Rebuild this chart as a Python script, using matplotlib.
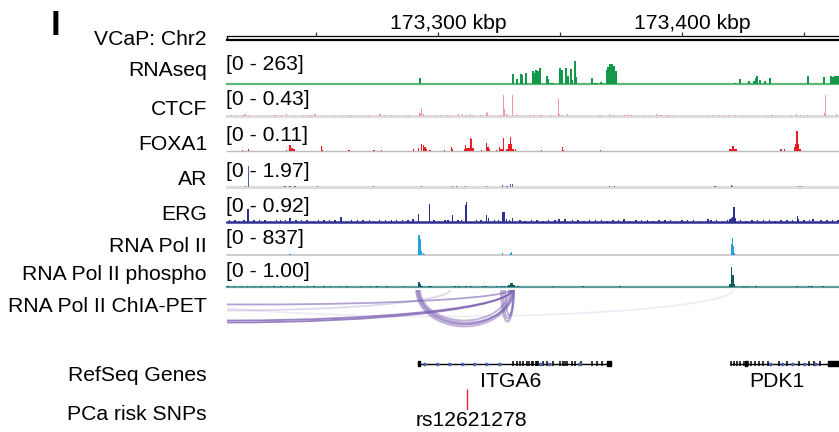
import matplotlib
matplotlib.use("Agg")
import matplotlib.pyplot as plt
from matplotlib.patches import Arc

plt.rcParams["font.family"] = ["Liberation Sans", "DejaVu Sans"]

# ---- data (genomic positions in kbp on chr2) ----
view_start, view_end = 173213.5, 173464.3
ruler_ticks = [173250, 173300, 173350, 173400, 173450]
ruler_labels = {173300: "173,300 kbp", 173400: "173,400 kbp"}

rnaseq_pos = [173292.6, 173330.6, 173332.3, 173333.9, 173334.4, 173335.9, 173338.8, 173339.3, 173340.2, 173341.0,
              173341.8, 173344.5, 173345.1, 173345.9, 173346.5, 173347.1, 173350.0, 173350.8, 173352.3, 173353.3,
              173354.4, 173354.9, 173356.0, 173356.6, 173363.0, 173363.5, 173364.3, 173365.2, 173366.7, 173367.2,
              173369.1, 173369.7, 173370.5, 173371.3, 173372.1, 173372.9, 173421.7, 173423.8, 173427.5, 173429.5,
              173430.1, 173430.7, 173432.0, 173434.0, 173436.1, 173451.6, 173458.2, 173461.1, 173461.9, 173462.7,
              173463.5, 173464.3]
rnaseq_val = [69, 114, 57, 114, 103, 126, 149, 126, 160, 149,
              183, 91, 57, 11, 11, 11, 183, 160, 183, 91,
              171, 46, 263, 80, 69, 11, 11, 11, 23, 11,
              160, 194, 229, 229, 206, 149, 11, 57, 34, 34,
              69, 91, 46, 34, 69, 91, 80, 91, 80, 91,
              91, 91]

ctcf_pos = [173292.6, 173293.3, 173293.9, 173319.8, 173320.3, 173326.8, 173327.3, 173327.9, 173330.4, 173349.3,
            173349.8, 173353.0, 173370.2, 173458.2, 173458.7]
ctcf_val = [0.06, 0.17, 0.04, 0.08, 0.06, 0.43, 0.14, 0.04, 0.43, 0.35,
            0.04, 0.04, 0.04, 0.06, 0.43]
ctcf_low_pos = [173215.2, 173217.5, 173219.8, 173220.9, 173222.3, 173231.2, 173233.2, 173235.9, 173238.0, 173240.7,
                173244.8, 173246.8, 173248.2, 173249.6, 173252.3, 173257.1, 173260.5, 173263.9, 173267.3, 173271.4,
                173276.2, 173278.3, 173281.0, 173283.7, 173286.5, 173287.8, 173299.2, 173301.5, 173303.8, 173305.2,
                173308.3, 173310.0, 173311.8, 173313.2, 173314.1, 173317.3, 173323.1, 173325.5, 173328.4, 173332.3,
                173337.7, 173339.5, 173342.2, 173346.4, 173350.7, 173366.4, 173371.8, 173376.6, 173378.0, 173379.4,
                173384.1, 173386.9, 173389.6, 173390.6, 173391.7, 173394.0, 173394.8, 173396.8, 173405.0, 173408.3,
                173410.8, 173412.4, 173414.9, 173416.9, 173419.0, 173421.7, 173424.5, 173434.3, 173436.8, 173439.0,
                173444.9, 173447.0, 173448.6, 173451.3, 173463.4]
ctcf_low_val = [0.02, 0.015, 0.02, 0.025, 0.02, 0.015, 0.02, 0.02, 0.025, 0.015,
                0.02, 0.02, 0.015, 0.025, 0.02, 0.015, 0.02, 0.02, 0.015, 0.02,
                0.025, 0.02, 0.015, 0.02, 0.02, 0.015, 0.02, 0.02, 0.015, 0.02,
                0.03, 0.04, 0.02, 0.025, 0.02, 0.02, 0.015, 0.02, 0.02, 0.015,
                0.02, 0.02, 0.015, 0.02, 0.02, 0.015, 0.02, 0.02, 0.025, 0.02,
                0.015, 0.02, 0.025, 0.02, 0.02, 0.015, 0.02, 0.02, 0.015, 0.02,
                0.02, 0.015, 0.02, 0.02, 0.015, 0.02, 0.02, 0.015, 0.02, 0.02,
                0.02, 0.025, 0.02, 0.02, 0.025]

foxa1_pos = [173219.8, 173222.3, 173238.0, 173239.3, 173240.2, 173241.0, 173252.1, 173252.7, 173263.5, 173273.8,
             173276.9, 173289.9, 173291.9, 173293.3, 173294.1, 173294.7, 173295.3, 173296.7, 173302.6, 173305.5,
             173305.9, 173310.7, 173311.2, 173311.8, 173312.7, 173313.2, 173313.8, 173314.3, 173317.7, 173319.8,
             173320.4, 173320.9, 173323.9, 173325.1, 173325.7, 173326.2, 173326.8, 173328.0, 173328.6, 173329.1,
             173329.6, 173330.2, 173330.7, 173331.7, 173342.3, 173350.9, 173351.4, 173366.5, 173419.7, 173420.3,
             173420.9, 173421.5, 173422.1, 173440.6, 173441.9, 173446.0, 173446.6, 173447.1, 173447.7, 173448.3]
foxa1_val = [0.007, 0.011, 0.008, 0.034, 0.016, 0.011, 0.029, 0.008, 0.005, 0.005,
             0.005, 0.011, 0.016, 0.040, 0.034, 0.022, 0.011, 0.005, 0.005, 0.023,
             0.011, 0.011, 0.034, 0.016, 0.016, 0.072, 0.067, 0.016, 0.005, 0.045,
             0.023, 0.011, 0.005, 0.023, 0.011, 0.011, 0.072, 0.011, 0.011, 0.040,
             0.078, 0.040, 0.011, 0.011, 0.005, 0.023, 0.005, 0.005, 0.011, 0.011,
             0.029, 0.011, 0.011, 0.011, 0.011, 0.023, 0.040, 0.110, 0.040, 0.011]

ar_pos = [173221.2, 173222.3, 173237.3, 173239.3, 173241.4, 173250.7, 173273.5, 173293.3, 173305.9, 173307.7,
          173311.2, 173319.8, 173326.5, 173328.2, 173329.6, 173330.4, 173370.2, 173372.2, 173413.5, 173420.2,
          173420.7, 173447.7, 173448.9]
ar_val = [0.09, 1.97, 0.09, 0.09, 0.09, 0.09, 0.09, 0.09, 0.09, 0.09,
          0.09, 0.09, 0.19, 0.09, 0.25, 0.31, 0.09, 0.09, 0.09, 0.19,
          0.09, 0.09, 0.09]

erg_pos = [173222.1, 173239.3, 173260.2, 173291.9, 173296.4, 173305.9, 173311.2, 173311.6, 173319.8, 173320.6,
           173326.6, 173327.3, 173328.0, 173330.4, 173419.7, 173420.3, 173420.9, 173421.3, 173421.9, 173447.2,
           173447.8]
erg_val = [0.57, 0.19, 0.21, 0.38, 0.83, 0.31, 0.78, 0.92, 0.31, 0.16,
           0.45, 0.45, 0.14, 0.16, 0.14, 0.19, 0.23, 0.69, 0.19, 0.28,
           0.14]
erg_low_pos = [173214.5, 173216.8, 173218.6, 173220.4, 173224.5, 173226.9, 173229.0, 173231.3, 173233.8, 173235.5,
               173237.4, 173241.8, 173244.0, 173246.3, 173248.9, 173251.0, 173253.2, 173255.6, 173257.8, 173262.4,
               173264.6, 173266.9, 173269.3, 173271.8, 173273.6, 173276.1, 173278.4, 173280.9, 173283.0, 173285.4,
               173287.7, 173289.8, 173298.4, 173300.6, 173302.9, 173304.1, 173308.2, 173309.5, 173315.8, 173317.6,
               173323.1, 173324.8, 173329.2, 173333.5, 173335.7, 173338.2, 173340.6, 173343.0, 173345.3, 173347.9,
               173349.5, 173352.0, 173355.1, 173357.3, 173359.8, 173362.0, 173364.5, 173366.9, 173369.2, 173371.6,
               173374.0, 173376.2, 173378.7, 173381.1, 173383.4, 173385.8, 173388.0, 173390.5, 173392.9, 173395.2,
               173397.6, 173400.0, 173402.3, 173404.7, 173407.1, 173410.6, 173411.8, 173414.1, 173416.5, 173418.6,
               173424.0, 173426.1, 173428.6, 173431.0, 173433.4, 173435.8, 173438.1, 173440.5, 173442.9, 173445.2,
               173449.9, 173452.3, 173453.7, 173457.0, 173459.4, 173461.7, 173463.8]
erg_low_val = [0.06, 0.09, 0.05, 0.07, 0.10, 0.06, 0.08, 0.05, 0.09, 0.06,
               0.07, 0.10, 0.06, 0.08, 0.05, 0.09, 0.07, 0.06, 0.10, 0.05,
               0.08, 0.06, 0.09, 0.07, 0.05, 0.08, 0.06, 0.10, 0.07, 0.09,
               0.06, 0.12, 0.08, 0.05, 0.09, 0.07, 0.10, 0.08, 0.06, 0.09,
               0.07, 0.10, 0.08, 0.06, 0.05, 0.07, 0.06, 0.05, 0.08, 0.06,
               0.14, 0.14, 0.06, 0.07, 0.05, 0.08, 0.06, 0.09, 0.05, 0.07,
               0.06, 0.12, 0.05, 0.08, 0.06, 0.07, 0.05, 0.09, 0.06, 0.08,
               0.05, 0.07, 0.06, 0.09, 0.05, 0.14, 0.06, 0.07, 0.05, 0.08,
               0.07, 0.05, 0.08, 0.10, 0.06, 0.09, 0.05, 0.07, 0.06, 0.08,
               0.10, 0.07, 0.14, 0.06, 0.09, 0.07, 0.08]

pol2_pos = [173239.3, 173292.2, 173292.7, 173293.3, 173293.9, 173294.4, 173326.4, 173329.6, 173330.2, 173420.2,
            173420.6, 173421.0, 173421.5]
pol2_val = [42, 837, 670, 167, 84, 42, 63, 63, 105, 460, 711, 377, 84]

phos_pos = [173292.2, 173292.8, 173293.4, 173328.5, 173329.1, 173329.9, 173330.4, 173331.1, 173419.7, 173420.2,
            173420.9, 173421.5]
phos_val = [0.25, 0.15, 0.07, 0.07, 0.12, 0.20, 0.20, 0.10, 0.15, 1.00, 0.61, 0.15]
phos_low_pos = [173214.0, 173216.6, 173219.4, 173222.0, 173224.8, 173227.5, 173230.1, 173232.8, 173235.6, 173238.3,
                173241.0, 173243.7, 173246.4, 173249.1, 173253.2, 173255.9, 173260.0, 173262.7, 173268.1, 173272.3,
                173275.0, 173279.1, 173285.9, 173296.2, 173297.1, 173307.0, 173308.6, 173311.5, 173313.4, 173318.6,
                173319.6, 173324.0, 173326.2, 173327.2, 173332.8, 173347.0, 173359.4, 173374.6, 173425.2, 173426.0,
                173426.8, 173430.3, 173447.1, 173451.8, 173452.6, 173453.3, 173457.8]
phos_low_val = [0.05, 0.04, 0.06, 0.05, 0.04, 0.06, 0.05, 0.04, 0.06, 0.05,
                0.04, 0.06, 0.05, 0.04, 0.06, 0.05, 0.04, 0.06, 0.05, 0.04,
                0.06, 0.05, 0.04, 0.08, 0.08, 0.05, 0.05, 0.06, 0.06, 0.06,
                0.06, 0.05, 0.06, 0.06, 0.05, 0.05, 0.05, 0.05, 0.06, 0.06,
                0.06, 0.05, 0.05, 0.06, 0.06, 0.06, 0.05]

# ChIA-PET loops: anchor start, anchor end (kbp), arc depth, opacity
chia_start = [173291.0, 173291.4, 173291.8, 173292.6, 173292.2, 173325.8, 173326.6, 173327.5,
              173100.0, 173098.0, 173120.0, 173120.0, 173180.0]
chia_end = [173330.7, 173329.9, 173331.1, 173329.1, 173330.3, 173331.1, 173330.7, 173331.1,
            173330.5, 173330.0, 173329.8, 173305.1, 173421.0]
chia_depth = [37, 35, 33, 31, 34.5, 32, 29, 26, 31, 33, 15, 21, 27]
chia_alpha = [0.5, 0.5, 0.5, 0.5, 0.5, 0.55, 0.55, 0.55, 0.8, 0.8, 0.6, 0.25, 0.12]

# RefSeq genes
itga6_span = (173291.8, 173370.8)
itga6_exons = [173330.6, 173332.3, 173333.6, 173335.0, 173336.3, 173337.4, 173338.4, 173339.1, 173340.0, 173340.4,
               173341.1, 173343.2, 173344.5, 173347.0, 173350.0, 173351.3, 173352.2, 173352.7, 173354.8, 173356.1,
               173358.5, 173363.0, 173365.3, 173367.1]
itga6_blocks = [(173291.8, 0.8), (173369.4, 1.4)]
itga6_arrows = [173294.7, 173299.9, 173304.9, 173310.1, 173315.2, 173320.2, 173325.4, 173342.0, 173345.8, 173358.0]
pdk1_span = (173420.2, 173464.5)
pdk1_exons = [173420.2, 173421.3, 173422.7, 173423.8, 173425.2, 173426.3, 173427.2, 173428.3, 173430.0, 173431.6,
              173433.0, 173435.2, 173439.7, 173443.0, 173448.1, 173452.2, 173453.9, 173456.4]
pdk1_blocks = [(173425.9, 0.8), (173459.7, 4.8)]
pdk1_arrows = [173436.5, 173441.5, 173445.5, 173450.2, 173455.0]
snp_pos = [173311.7]
snp_names = ["rs12621278"]

# ---- layout (pixels of the 839x432 canvas) ----
W, H = 839, 432
X0, X1 = 227, 839
FS = 15.2

fig = plt.figure(figsize=(W / 100, H / 100), dpi=100)


def fx(px):
    return px / W


def fy(py):
    return 1 - py / H


def strip(top, bottom):
    ax = fig.add_axes([fx(X0), fy(bottom), fx(X1) - fx(X0), (bottom - top) / H])
    ax.set_xlim(view_start, view_end)
    ax.set_axis_off()
    return ax


# name, range text, ymax, data, colour, baseline colour, baseline width,
# baseline y, track height, bar width, name baseline, range baseline
tracks = [
    ("RNAseq", "263", 263, [(rnaseq_pos, rnaseq_val)], "#14994b", "#5fb97d", 1.6, 84.3, 23, 0.75, 76, 70.5),
    ("CTCF", "0.43", 0.43, [(ctcf_low_pos, ctcf_low_val), (ctcf_pos, ctcf_val)], "#f2999d", "#dcdcdc", 2.2,
     115.7, 20.7, 0.5, 115, 105),
    ("FOXA1", "0.11", 0.11, [(foxa1_pos, foxa1_val)], "#ed1c24", "#bcbcbc", 1.0, 151.3, 20.3, 0.55, 150, 140.7),
    ("AR", "1.97", 1.97, [(ar_pos, ar_val)], "#4a63b5", "#dcdcdc", 2.2, 187, 21, 0.5, 185, 177.3),
    ("ERG", "0.92", 0.92, [(erg_low_pos, erg_low_val), (erg_pos, erg_val)], "#2e3192", "#2e3192", 1.8,
     221.7, 19.7, 0.6, 220, 211.7),
    ("RNA Pol II", "837", 837, [(pol2_pos, pol2_val)], "#27a1d9", "#c4c4c4", 1.2, 255, 20, 0.5, 251.7, 244),
    ("RNA Pol II phospho", "1.00", 1.00, [(phos_low_pos, phos_low_val), (phos_pos, phos_val)], "#0d5f5f",
     "#5e9b9b", 1.6, 287.3, 20.3, 0.6, 280, 277.3),
]

fig.text(fx(55), fy(35), "I", fontsize=25, fontweight="bold", ha="center", va="baseline")
fig.text(fx(207), fy(45), "VCaP: Chr2", fontsize=FS, ha="right", va="baseline")

# ruler
rul = strip(26, 42)
rul.set_ylim(42 - 26, 0)
rul.plot([view_start, view_end], [10, 10], color="black", lw=0.9, clip_on=False)
rul.plot([view_start, view_end], [14.3, 14.3], color="black", lw=1.6, clip_on=False)
rul.vlines(view_start, 10, 14.3, color="black", lw=1.0, clip_on=False)
rul.vlines(ruler_ticks, 5.5, 10, color="#333333", lw=0.9)
for t, lab in ruler_labels.items():
    rul.text(t + 4, 3, lab, fontsize=FS, ha="center", va="baseline")

for (name, rtext, ymax, series, col, bcol, blw, base, th, bw, nbase, rbase) in tracks:
    ax = strip(base - th, base)
    ax.set_ylim(0, ymax)
    ax.axhline(0, color=bcol, lw=blw, clip_on=False, zorder=1)
    for pos, val in series:
        ax.bar(pos, val, width=bw, color=col, linewidth=0, zorder=2)
    fig.text(fx(207), fy(nbase), name, fontsize=FS, ha="right", va="baseline")
    fig.text(fx(226), fy(rbase), "[0 - %s]" % rtext, fontsize=FS, ha="left", va="baseline", zorder=0)

# ChIA-PET
chia = strip(289.5, 336)
chia.set_ylim(336 - 289.5, 0)
for s, e, d, a in zip(chia_start, chia_end, chia_depth, chia_alpha):
    chia.add_patch(Arc(((s + e) / 2, 0), e - s, 2 * d, theta1=0, theta2=180,
                       color="#7f63b3", alpha=a, lw=1.3))
fig.text(fx(207), fy(312), "RNA Pol II ChIA-PET", fontsize=FS, ha="right", va="baseline")

# genes
genes = strip(355, 372)
genes.set_ylim(8.5, -8.5)
for span, exons, blocks, arrows in [(itga6_span, itga6_exons, itga6_blocks, itga6_arrows),
                                    (pdk1_span, pdk1_exons, pdk1_blocks, pdk1_arrows)]:
    genes.plot(span, [0, 0], color="black", lw=1.0, clip_on=False)
    genes.vlines(exons, -2.7, 2.7, color="black", lw=1.1)
    genes.broken_barh(blocks, (-2.2, 4.4), color="black")
    genes.plot(arrows, [0] * len(arrows), ls="none", marker=">", ms=2.0, color="#4a5fb0")
genes.text(sum(itga6_span) / 2 - 1.5, 23.5, "ITGA6", fontsize=FS, ha="center", va="baseline", clip_on=False)
genes.text(173439.0, 23.5, "PDK1", fontsize=FS, ha="center", va="baseline", clip_on=False)
fig.text(fx(207), fy(381), "RefSeq Genes", fontsize=FS, ha="right", va="baseline")

# SNPs
snps = strip(389, 410)
snps.set_ylim(0, 1)
snps.vlines(snp_pos, 0, 1, color="#e8262b", lw=1.0)
for p, n in zip(snp_pos, snp_names):
    snps.text(p + 1.8, -0.78, n, fontsize=FS, ha="center", va="baseline", clip_on=False)
fig.text(fx(207), fy(420), "PCa risk SNPs", fontsize=FS, ha="right", va="baseline")

fig.savefig("out.png", dpi=100)
